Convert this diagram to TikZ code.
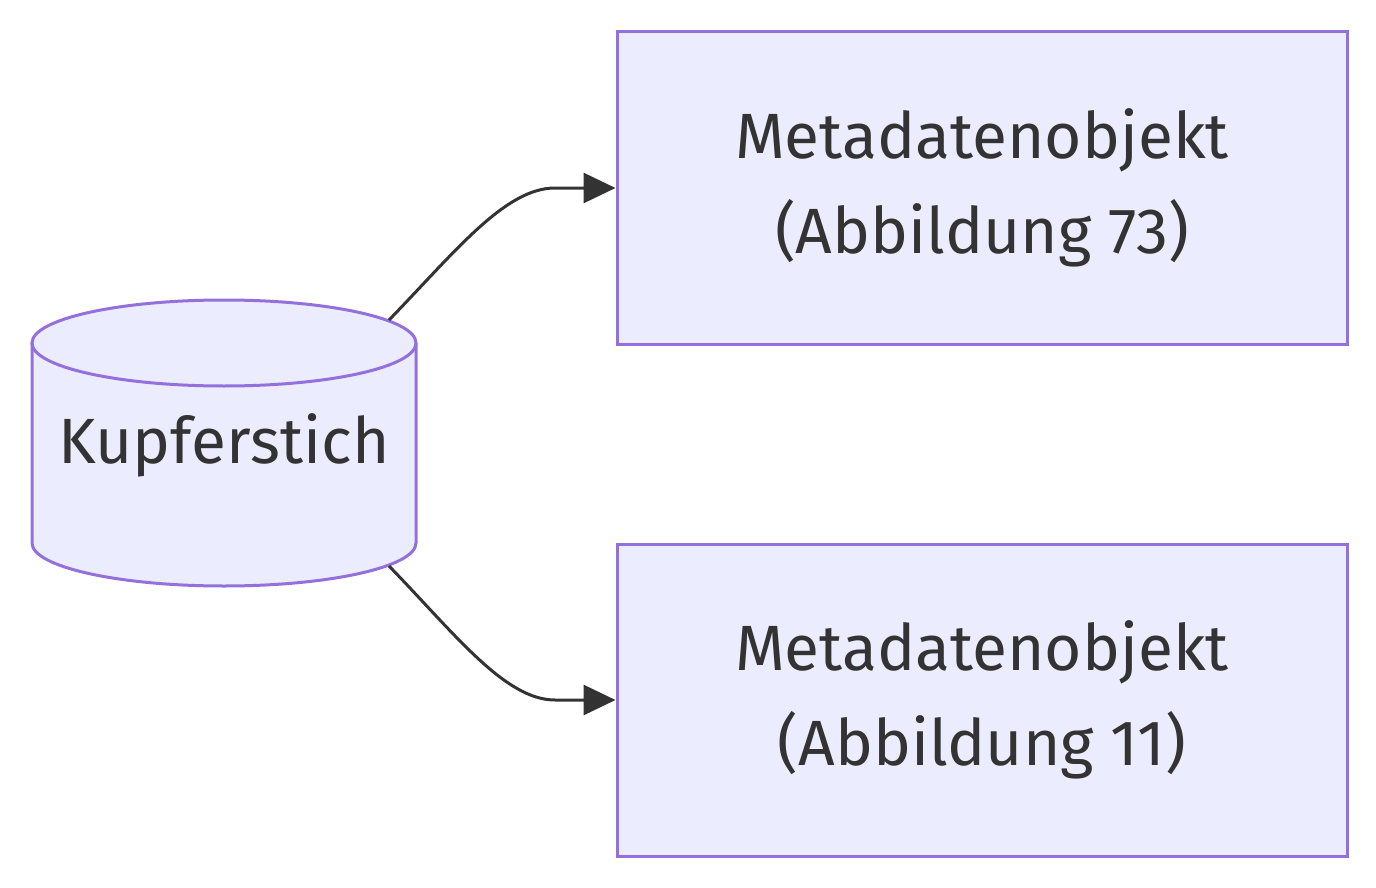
\documentclass[tikz,border=0pt]{standalone}
\usepackage{fontspec}
\setmainfont{Fira Sans}
\usetikzlibrary{arrows.meta}
\definecolor{nodefill}{HTML}{ECECFF}
\definecolor{nodeline}{HTML}{9370DB}
\definecolor{ink}{HTML}{333333}
\tikzset{
  box/.style={draw=nodeline, fill=nodefill, line width=3pt, minimum width=730pt, minimum height=312pt, inner sep=0pt, align=center, text=ink, font=\fontsize{64pt}{95pt}\selectfont},
  edge/.style={draw=ink, line width=3pt, -{Triangle[length=32pt,width=30pt]}},
  lbl/.style={text=ink, font=\fontsize{64pt}{95pt}\selectfont, inner sep=0pt, anchor=base}
}
\begin{document}
\begin{tikzpicture}[x=1pt,y=-1pt]
\useasboundingbox (0,0) rectangle (1376,888);
% cylinder
\fill[nodefill] (32,343) -- (32,543) arc[start angle=180,end angle=360,x radius=192,y radius=-43] -- (416,343) arc[start angle=0,end angle=180,x radius=192,y radius=-43] -- cycle;
\draw[nodeline, line width=3pt] (32,343) -- (32,543) arc[start angle=180,end angle=360,x radius=192,y radius=-43] -- (416,343);
\draw[nodeline, line width=3pt] (224,343) ellipse[x radius=192, y radius=43];
\node[lbl] (k) at (224,463) {Kupferstich};
\coordinate (c1) at (389,320);
\coordinate (c2) at (389,566);
\node[box] (m1) at (982,188) {Metadatenobjekt\\(Abbildung 73)};
\node[box] (m2) at (982,700) {Metadatenobjekt\\(Abbildung 11)};
\draw[edge] (c1) .. controls (455,252) and (505,188) .. (555,188) -- (m1.west);
\draw[edge] (c2) .. controls (455,634) and (505,700) .. (555,700) -- (m2.west);
\end{tikzpicture}
\end{document}
